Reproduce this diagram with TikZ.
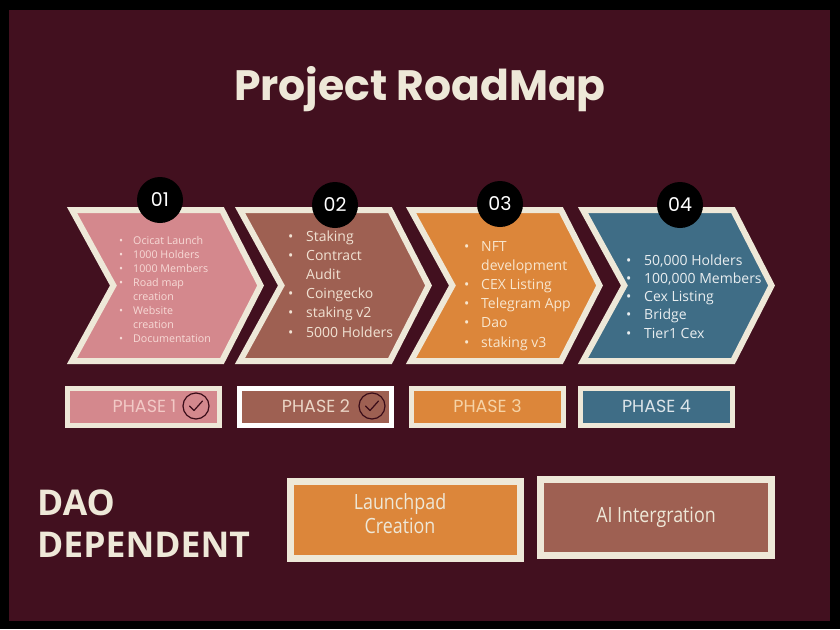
\documentclass[tikz,border=0pt]{standalone}
\usepackage{fontspec}
\setmainfont{Open Sans}
\newfontfamily\pop{Poppins}
\newfontfamily\cond{Open Sans}[FakeStretch=0.85]
\definecolor{bg}{HTML}{42101F}
\definecolor{cream}{HTML}{EEE8D8}
\definecolor{cpink}{HTML}{D4888D}
\definecolor{cbrown}{HTML}{9E6052}
\definecolor{corange}{HTML}{DC863A}
\definecolor{cblue}{HTML}{3F6D86}
\definecolor{tpink}{HTML}{F7DAD6}
\definecolor{tbrown}{HTML}{F1E2D3}
\definecolor{torange}{HTML}{F8E6CE}
\definecolor{tblue}{HTML}{E9EEF0}
\definecolor{pk1}{HTML}{F2C9C6}
\definecolor{pk2}{HTML}{EBD6C6}
\definecolor{pk3}{HTML}{F6D3A6}
\definecolor{pk4}{HTML}{DCE4E9}
\definecolor{dark}{HTML}{3A0C18}
\newcommand{\bul}[2]{\makebox[#1][l]{\textbullet}}
\begin{document}
\begin{tikzpicture}[x=1pt,y=-1pt,
  numcirc/.style={circle, fill=black, minimum size=46pt, inner sep=0pt, text=white, font=\pop\fontsize{19}{19}\selectfont},
  phasebox/.style={draw=cream, line width=5pt, minimum width=152pt, minimum height=37pt, inner sep=0pt},
  phasetxt/.style={anchor=base, inner sep=0pt, font=\pop\fontsize{17.5}{17.5}\selectfont},
  chk/.style={circle, draw=dark, line width=1.2pt, minimum size=26pt, inner sep=0pt},
  bigbox/.style={draw=cream, line width=7pt, inner sep=0pt},
  boxtxt/.style={anchor=base, inner sep=0pt, text=cream, font=\cond\fontsize{21}{21}\selectfont},
  listtxt/.style={anchor=base west, inner sep=0pt, align=left}
]
\useasboundingbox (0,0) rectangle (840,629);
\fill[black] (0,0) rectangle (840,629);
\fill[bg] (9,10) rectangle (830,621);

% title
\node[anchor=base, inner sep=0pt, text=cream, font=\pop\bfseries\fontsize{42.5}{42.5}\selectfont] (title) at (420,100) {Project RoadMap};

% chevrons
\foreach \L/\c in {67/cpink,235/cbrown,406/corange,578/cblue}{
  \filldraw[fill=\c, draw=cream, line width=6pt, line join=miter]
    ({\L+5},210) -- ({\L+155},210) -- ({\L+193.6},285.5) -- ({\L+155},361)
    -- ({\L+5},361) -- ({\L+46.4},285.5) -- cycle;
}

% number circles
\node[numcirc] (n1) at (160,200) {01};
\node[numcirc] (n2) at (335,205) {02};
\node[numcirc] (n3) at (500,204) {03};
\node[numcirc] (n4) at (680,205) {04};

% lists (anchored at the baseline of their last line)
\node[listtxt, text=tpink, font=\fontsize{10.7}{14}\selectfont] (l1) at (119,342.5) {%
\bul{14pt}{}Ocicat Launch\\
\bul{14pt}{}1000 Holders\\
\bul{14pt}{}1000 Members\\
\bul{14pt}{}Road map\\
\hspace*{14pt}creation\\
\bul{14pt}{}Website\\
\hspace*{14pt}creation\\
\bul{14pt}{}Documentation};

\node[listtxt, text=tbrown, font=\fontsize{14}{19.2}\selectfont] (l2) at (288,337) {%
\bul{18pt}{}Staking\\
\bul{18pt}{}Contract\\
\hspace*{18pt}Audit\\
\bul{18pt}{}Coingecko\\
\bul{18pt}{}staking v2\\
\bul{18pt}{}5000 Holders};

\node[listtxt, text=torange, font=\fontsize{14}{19.2}\selectfont] (l3) at (464,347) {%
\bul{17pt}{}NFT\\
\hspace*{17pt}development\\
\bul{17pt}{}CEX Listing\\
\bul{17pt}{}Telegram App\\
\bul{17pt}{}Dao\\
\bul{17pt}{}staking v3};

\node[listtxt, text=tblue, font=\fontsize{14}{18.3}\selectfont] (l4) at (626,338.2) {%
\bul{18pt}{}50,000 Holders\\
\bul{18pt}{}100,000 Members\\
\bul{18pt}{}Cex Listing\\
\bul{18pt}{}Bridge\\
\bul{18pt}{}Tier1 Cex};

% phase boxes
\node[phasebox, fill=cpink] (p1) at (143.5,407) {};
\node[phasebox, fill=cbrown, draw=white] (p2) at (315.5,406.5) {};
\node[phasebox, fill=corange] (p3) at (487.5,406.5) {};
\node[phasebox, fill=cblue] (p4) at (656.5,406.5) {};

\node[phasetxt, text=pk1] (pt1) at (144.5,412.5) {PHASE 1};
\node[phasetxt, text=pk2] (pt2) at (316,412.5) {PHASE 2};
\node[phasetxt, text=pk3] (pt3) at (487.5,412.5) {PHASE 3};
\node[phasetxt, text=pk4] (pt4) at (656.5,412.5) {PHASE 4};

\node[chk] (k1) at (196,406) {};
\node[chk] (k2) at (372,406) {};
\foreach \k in {k1,k2}{
  \draw[dark, line width=1.2pt, line join=round, line cap=round]
    ([shift={(-6.5,0)}]\k.center) -- ([shift={(-2,4.5)}]\k.center) -- ([shift={(6.5,-5)}]\k.center);
}

% DAO dependent
\node[anchor=base west, inner sep=0pt, text=cream, font=\bfseries\fontsize{35.5}{35.5}\selectfont] (d1) at (37,515) {DAO};
\node[anchor=base west, inner sep=0pt, text=cream, font=\bfseries\fontsize{35.5}{35.5}\selectfont] (d2) at (37,557) {DEPENDENT};

% bottom boxes
\node[bigbox, fill=corange, minimum width=230pt, minimum height=77pt] (lp) at (405.5,520) {};
\node[bigbox, fill=cbrown, minimum width=231pt, minimum height=76pt] (ai) at (656,517.5) {};
\node[boxtxt] (lpa) at (400,509) {Launchpad};
\node[boxtxt] (lpb) at (400,533) {Creation};
\node[boxtxt] (aia) at (656,522) {AI Intergration};
\end{tikzpicture}
\end{document}
